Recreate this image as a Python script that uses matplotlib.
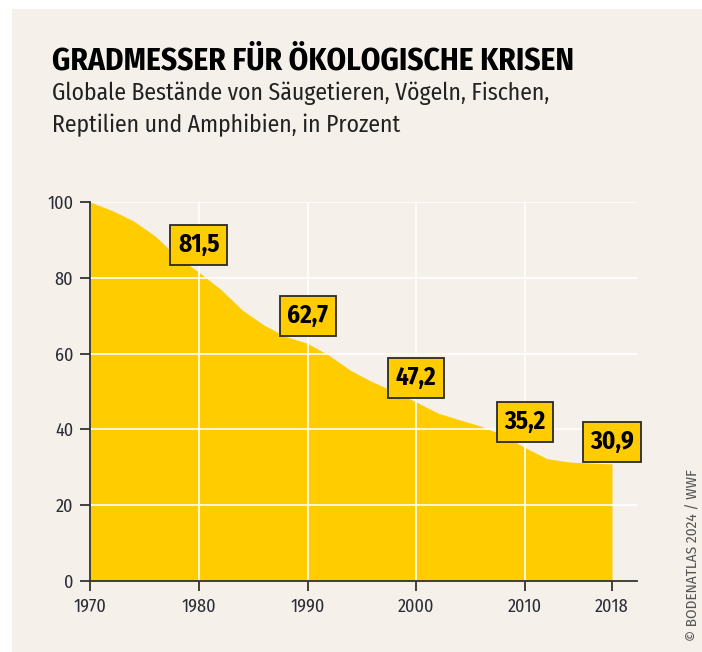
import matplotlib
matplotlib.use("Agg")
import matplotlib.pyplot as plt
from matplotlib.patches import Rectangle

years = [1970, 1972, 1974, 1976, 1978, 1980, 1982, 1984, 1986, 1988, 1990,
         1992, 1994, 1996, 1998, 2000, 2002, 2004, 2006, 2008, 2010,
         2012, 2014, 2016, 2018]
index = [100, 97.8, 95, 91, 85.5, 81.5, 77, 71.5, 67.5, 64.5, 62.7,
         59.5, 55.5, 52.5, 50, 47.2, 44.3, 42.5, 40.8, 38.5, 35.2,
         32.3, 31.4, 31.1, 30.9]
label_years = [1980, 1990, 2000, 2010, 2018]
label_values = [81.5, 62.7, 47.2, 35.2, 30.9]
x_ticks = [1970, 1980, 1990, 2000, 2010, 2018]
y_ticks = [0, 20, 40, 60, 80, 100]

BG = "#F5F0EA"
YELLOW = "#FFCC00"
TXT = "#2b2b36"
FONT = ["Fira Sans Condensed", "Barlow Semi Condensed", "DejaVu Sans"]
plt.rcParams["font.family"] = FONT

fig = plt.figure(figsize=(7.02, 6.52), dpi=100)
fig.patch.set_facecolor("white")
fig.patches.append(Rectangle((12 / 702, 0), 1, 1 - 9 / 652, transform=fig.transFigure,
                             facecolor=BG, edgecolor="none", zorder=-10))

ax = fig.add_axes([90 / 702, 1 - 581 / 652, 547 / 702, (581 - 202) / 652])
ax.set_facecolor("none")
ax.set_xlim(1970, 1970 + 547 / 10.875)
ax.set_ylim(0, 100)

ax.fill_between(years, index, 0, color=YELLOW, lw=0, zorder=1)

for yv in y_ticks[1:]:
    ax.axhline(yv, color="white", lw=1.2, zorder=2)
for xv in x_ticks[1:-1]:
    ax.axvline(xv, color="white", lw=1.2, zorder=2)

for s in ["top", "right"]:
    ax.spines[s].set_visible(False)
for s in ["left", "bottom"]:
    ax.spines[s].set_color("#333333")
    ax.spines[s].set_linewidth(1.3)
    ax.spines[s].set_zorder(3)

ax.set_xticks(x_ticks)
ax.set_xticklabels([str(v) for v in x_ticks])
ax.set_yticks(y_ticks)
ax.set_yticklabels([str(v) for v in y_ticks])
ax.tick_params(axis="both", colors="#333333", labelcolor=TXT, labelsize=13,
               length=7, width=1.3)
ax.tick_params(axis="x", pad=5)
ax.tick_params(axis="y", pad=5)

offsets = [7.2, 7.2, 6.3, 6.8, 5.8]
for yr, val, off in zip(label_years, label_values, offsets):
    ax.text(yr, val + off, f"{val:.1f}".replace(".", ","), ha="center", va="center",
            fontsize=18, fontweight="bold", color="black", zorder=5,
            bbox=dict(boxstyle="square,pad=0.3", fc=YELLOW, ec="#2a2a2a", lw=1.3))

fig.text(52 / 702, 1 - 69 / 652, "GRADMESSER FÜR ÖKOLOGISCHE KRISEN",
         fontsize=22.5, fontweight="bold", color="black", ha="left", va="baseline")
fig.text(52 / 702, 1 - 100 / 652, "Globale Bestände von Säugetieren, Vögeln, Fischen,",
         fontsize=17, color="#222222", ha="left", va="baseline")
fig.text(52 / 702, 1 - 132 / 652, "Reptilien und Amphibien, in Prozent",
         fontsize=17, color="#222222", ha="left", va="baseline")

fig.text(693 / 702, 1 - 641 / 652, "© BODENATLAS 2024 / WWF", rotation=90,
         fontsize=11, color="#555555", ha="center", va="bottom")

fig.savefig("out.png", dpi=100, facecolor=fig.get_facecolor())
